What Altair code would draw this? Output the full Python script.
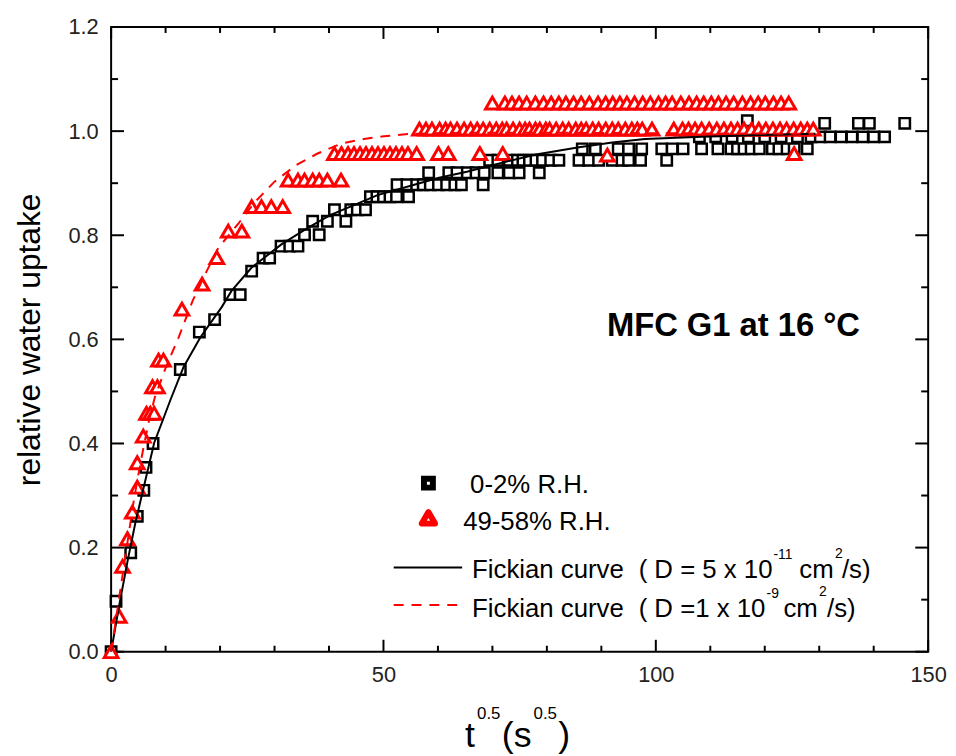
import altair as alt
import pandas as pd

FONT = "Liberation Sans"
W, H = 824, 630
XMAX, YMAX = 150, 1.2
OX, OY = 112, 24  # page position of the plot origin (top-left)

# ---------------- data ----------------
sq_x = [0, 0.9, 3.6, 4.8, 6.0, 6.4, 7.7, 12.7, 16.2, 19.0, 21.8, 23.7, 25.8, 27.9, 29.1,
        31.2, 32.8, 34.3, 35.5, 37.0, 38.2, 39.7, 41.0, 43.1, 44.0, 45.2, 46.7,
        47.6, 48.8, 50.0, 51.2, 52.4, 54.6,
        52.5, 54.3, 56.1, 57.3, 58.6, 60.1, 61.6, 63.1, 64.3, 68.3,
        58.3, 62.0, 63.5, 65.4, 67.0, 68.5, 71.0, 73.1, 74.9, 78.6,
        69.5, 71.0, 73.1, 74.6, 75.6, 76.8, 78.0, 79.2, 80.7, 82.2, 85.9, 87.7, 89.5, 92.0,
        93.8, 95.0, 97.2, 102.0,
        86.5, 88.9, 93.1, 95.0, 97.4, 101.1, 103.0, 105.0, 108.4, 111.4, 113.8, 115.0,
        116.2, 117.5, 119.0, 121.4, 122.6, 124.1, 125.4, 127.8,
        108.0, 111.0, 114.0, 117.0, 120.0, 123.0, 126.0, 128.5, 130.2, 132.0, 134.0, 136.0,
        138.0, 140.0, 142.0,
        116.8, 131.0, 137.2, 139.2, 145.7]
sq_y = [0, 0.097, 0.19, 0.26, 0.31, 0.354, 0.40, 0.542, 0.614, 0.638, 0.686, 0.686, 0.731, 0.756, 0.756,
        0.779, 0.779, 0.779, 0.801, 0.827, 0.801, 0.827, 0.849, 0.827, 0.849, 0.849, 0.849,
        0.874, 0.874, 0.874, 0.874, 0.874, 0.874,
        0.897, 0.897, 0.897, 0.897, 0.897, 0.897, 0.897, 0.897, 0.897, 0.897,
        0.92, 0.92, 0.92, 0.92, 0.92, 0.92, 0.92, 0.92, 0.92, 0.92,
        0.944, 0.944, 0.944, 0.944, 0.944, 0.944, 0.944, 0.944, 0.944, 0.944, 0.944, 0.944, 0.944, 0.944,
        0.944, 0.944, 0.944, 0.944,
        0.966, 0.966, 0.966, 0.966, 0.966, 0.966, 0.966, 0.966, 0.966, 0.966, 0.966, 0.966,
        0.966, 0.966, 0.966, 0.966, 0.966, 0.966, 0.966, 0.966,
        0.989, 0.989, 0.989, 0.989, 0.989, 0.989, 0.989, 0.989, 0.989, 0.989, 0.989, 0.989,
        0.989, 0.989, 0.989,
        1.02, 1.015, 1.015, 1.015, 1.015]

tri_x = [0, 1.5, 2.1, 3.0, 3.9, 4.8, 4.8, 5.9, 6.5, 7.2, 7.9, 7.6, 8.5, 8.7, 9.6, 13.0, 16.7,
         19.4, 21.5, 24.0,
         25.8, 27.6, 29.4, 31.5,
         32.5, 34.3, 35.5, 37.0, 38.2, 39.7, 42.2,
         41.0, 42.3, 43.5, 44.6, 45.7, 46.8, 47.9, 49.0, 50.1, 51.2, 52.3, 53.4, 54.5, 56.1,
         60.1, 61.9, 67.7, 71.9, 91.1, 125.4,
         56.6, 57.8, 58.9, 60.3, 61.4, 62.3, 63.5, 64.8, 66.0, 67.2, 68.3, 69.5, 70.7, 71.8,
         72.6, 73.8, 75.0, 76.0, 76.8, 77.9, 78.7, 79.8, 80.5, 81.7, 82.9, 84.0, 85.3, 86.3,
         87.2, 88.4, 89.5, 90.8, 92.0, 93.1, 94.4, 95.6, 96.6, 97.5, 99.3, 103.3, 104.9, 106.0,
         107.2, 108.4, 109.8, 111.2, 112.5, 113.8, 115.0, 116.2, 117.6, 118.9, 120.2, 121.5,
         122.8, 124.0, 125.3, 126.6, 127.8, 128.9,
         70.0, 72.3, 73.6, 74.9, 76.3, 77.9, 79.4, 80.8, 82.2, 83.5, 84.9, 86.3, 87.8, 89.4,
         90.8, 92.1, 93.4, 94.7, 96.1, 97.6, 99.0, 100.5, 101.8, 103.0, 104.6, 106.1, 107.5,
         108.8, 110.2, 111.5, 112.9, 114.3, 115.9, 117.4, 118.8, 120.1, 121.6, 123.0, 124.4]
tri_y = [0, 0.068, 0.164, 0.217, 0.268, 0.316, 0.363, 0.414, 0.458, 0.458, 0.458, 0.509, 0.509,
         0.56, 0.56, 0.658, 0.706, 0.757, 0.808, 0.808,
         0.855, 0.855, 0.855, 0.855,
         0.906, 0.906, 0.906, 0.906, 0.906, 0.906, 0.906,
         0.957, 0.957, 0.957, 0.957, 0.957, 0.957, 0.957, 0.957, 0.957, 0.957, 0.957, 0.957,
         0.957, 0.957, 0.957, 0.957, 0.957, 0.957, 0.954, 0.957] + [1.004] * 60 + [1.054] * 39

fick1_x = [0, 1.5, 3.0, 4.5, 5.9, 7.9, 10.9, 13.3, 16.4, 20.3, 22.1, 25.8, 31.2, 36.1, 40.3,
           44.6, 48.9, 55, 60, 65.3, 72, 78, 85.9, 92, 98, 108.4, 118, 129.3]
fick1_y = [0, 0.09, 0.173, 0.25, 0.312, 0.401, 0.484, 0.547, 0.604, 0.662, 0.693, 0.738, 0.782,
           0.814, 0.839, 0.858, 0.877, 0.895, 0.91, 0.922, 0.94, 0.955, 0.969, 0.978, 0.985,
           0.989, 0.992, 0.995]

fick2_x = [0, 1, 2, 3, 4, 5, 6, 7, 8, 10, 12.4, 15, 17.5, 19.7, 23.4, 26.5, 30, 34, 37.9,
           42.2, 46.4, 50.1, 54.9, 65, 80, 100, 129]
fick2_y = [0, 0.07, 0.14, 0.21, 0.28, 0.34, 0.395, 0.446, 0.488, 0.545, 0.604, 0.675, 0.73,
           0.776, 0.823, 0.865, 0.903, 0.935, 0.957, 0.976, 0.985, 0.99, 0.995, 0.997, 0.997,
           0.996, 0.995]

x_major = [0, 50, 100, 150]
x_minor = [10, 20, 30, 40, 60, 70, 80, 90, 110, 120, 130, 140]
y_major = [0.0, 0.2, 0.4, 0.6, 0.8, 1.0, 1.2]
y_minor = [0.1, 0.3, 0.5, 0.7, 0.9, 1.1]

series_labels = ["0-2% R.H.", "49-58% R.H."]
y_title = "relative water uptake"
annotation = "MFC G1 at 16 \u00b0C"

# ---------------- scales / axes ----------------
xs = alt.Scale(domain=[0, XMAX], nice=False, zero=False)
ys = alt.Scale(domain=[0, YMAX], nice=False, zero=False)
XAX = alt.Axis(values=x_major, ticks=False, domain=False, grid=False, labelFont=FONT,
               labelFontSize=22, labelColor="#222", labelPadding=13, labelFlush=False,
               labelOverlap=False, title=None)
YAX = alt.Axis(values=y_major, format=".1f", ticks=False, domain=False, grid=False,
               labelFont=FONT, labelFontSize=22, labelColor="#222", labelPadding=13,
               labelOverlap=False, title=y_title, titleFont=FONT, titleFontSize=32,
               titleFontWeight="normal", titleColor="black", titlePadding=22)


def ex(f):
    return alt.X(f, type="quantitative", scale=xs, axis=XAX)


def ey(f):
    return alt.Y(f, type="quantitative", scale=ys, axis=YAX)


df_sq = pd.DataFrame({"x": sq_x, "y": sq_y})
df_tri = pd.DataFrame({"x": tri_x, "y": tri_y})
df_f1 = pd.DataFrame({"x": fick1_x, "y": fick1_y})
df_f2 = pd.DataFrame({"x": fick2_x, "y": fick2_y})

# inward tick marks on all four sides
MAJ, MIN = 12, 6
lx = lambda px: px * XMAX / W
ly = lambda px: px * YMAX / H
rows = []
for v in x_major + x_minor:
    L = MAJ if v in x_major else MIN
    rows.append({"x": v, "x2": v, "y": 0, "y2": ly(L)})
    rows.append({"x": v, "x2": v, "y": YMAX, "y2": YMAX - ly(L)})
for v in y_major + y_minor:
    L = MAJ + 1 if v in y_major else MIN + 1
    rows.append({"x": 0, "x2": lx(L), "y": v, "y2": v})
    rows.append({"x": XMAX, "x2": XMAX - lx(L), "y": v, "y2": v})
df_ticks = pd.DataFrame(rows)

ticks = alt.Chart(df_ticks).mark_rule(color="black", strokeWidth=2).encode(
    x=ex("x"), y=ey("y"), x2="x2:Q", y2="y2:Q")

squares = alt.Chart(df_sq).mark_point(shape="square", size=110, filled=True, fill="white",
                                       stroke="black", strokeWidth=2.5, opacity=1).encode(
    x=ex("x"), y=ey("y"))
triangles = alt.Chart(df_tri).mark_point(shape="triangle-up", size=190, filled=True, fill="white",
                                          stroke="#ff0000", strokeWidth=3, opacity=1).encode(
    x=ex("x"), y=ey("y"))
curve1 = alt.Chart(df_f1).mark_line(color="black", strokeWidth=2).encode(x=ex("x"), y=ey("y"))
curve2 = alt.Chart(df_f2).mark_line(color="#ff0000", strokeWidth=2, strokeDash=[10, 8]).encode(
    x=ex("x"), y=ey("y"))

ONE = pd.DataFrame({"k": [0]})


def label(s, x, y, size, weight="normal", color="black"):
    return alt.Chart(ONE).mark_text(text=s, font=FONT, fontSize=size, fontWeight=weight,
                                    color=color, align="left", baseline="alphabetic").encode(
        x=alt.value(x - OX), y=alt.value(y - OY))


LF = 26  # legend font size
texts = [
    label(annotation, 612, 336, 33, weight="bold"),
    # x axis title t^0.5 (s^0.5)
    label("t", 469, 750, 36), label("0.5", 481, 722, 17),
    label("(s", 506, 750, 36), label("0.5", 538, 722, 17), label(")", 563, 750, 36),
    # legend texts
    label(series_labels[0], 474, 494, LF),
    label(series_labels[1], 467, 531, LF),
    label("Fickian curve", 476, 580, LF), label("( D = 5 x 10", 644, 580, LF),
    label("-11", 780, 561, 14), label("cm", 806, 580, LF), label("2", 842, 559, 14),
    label("/s)", 849, 580, LF),
    label("Fickian curve", 476, 619, LF), label("( D =1 x 10", 644, 619, LF),
    label("-9", 773, 600, 14), label("cm", 790, 619, LF), label("2", 826, 598, 14),
    label("/s)", 834, 619, LF),
]

leg_sq = alt.Chart(ONE).mark_point(shape="square", size=81, filled=True, fill="white", stroke="black",
                                   strokeWidth=6, opacity=1).encode(
    x=alt.value(432 - OX), y=alt.value(484 - OY))
leg_tri = alt.Chart(ONE).mark_point(shape="triangle-up", size=180, filled=True, fill="white",
                                    stroke="#ff0000", strokeWidth=6, strokeJoin="round",
                                    opacity=1).encode(
    x=alt.value(432 - OX), y=alt.value(519 - OY))
leg_l1 = alt.Chart(ONE).mark_rule(color="black", strokeWidth=2).encode(
    x=alt.value(397 - OX), x2=alt.value(466 - OX), y=alt.value(569 - OY))
leg_l2 = alt.Chart(ONE).mark_rule(color="#ff0000", strokeWidth=2, strokeDash=[10, 8]).encode(
    x=alt.value(397 - OX), x2=alt.value(469 - OX), y=alt.value(607 - OY))

chart = alt.layer(
    ticks, squares, triangles, curve1, curve2, leg_l1, leg_l2, leg_sq, leg_tri, *texts
).properties(
    width=W, height=H,
    autosize=alt.AutoSizeParams(type="none"),
    padding={"left": OX - 8, "top": OY - 8, "right": 20, "bottom": 102},
    background="white",
).configure_view(stroke="black", strokeWidth=2)

chart.save("out.html", embed_options={"renderer": "svg", "actions": False})
